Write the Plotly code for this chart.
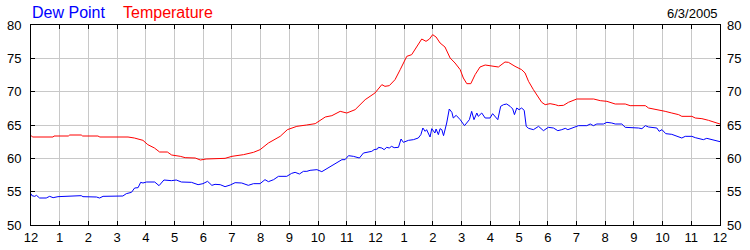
import plotly.graph_objects as go

# Temperature (red) — hour of day, value (°F)
temp_hours = [0.0, 0.05, 0.77, 0.8, 1.3, 1.35, 1.75, 1.8, 2.33, 2.4, 3.38, 3.6, 3.9, 4.07, 4.3, 4.48,
              4.75, 4.9, 5.2, 5.37, 5.72, 5.9, 6.1, 6.35, 6.76, 7.0, 7.4, 7.75, 7.98, 8.27, 8.68,
              8.93, 9.26, 9.6, 9.9, 10.25, 10.48, 10.77, 11.0, 11.29, 11.64, 11.81, 11.98, 12.22,
              12.33, 12.48, 12.68, 12.86, 13.09, 13.26, 13.44, 13.61, 13.76, 13.88, 13.99, 14.11,
              14.25, 14.42, 14.6, 14.77, 14.95, 15.06, 15.18, 15.32, 15.47, 15.64, 15.82, 16.05,
              16.28, 16.51, 16.63, 16.86, 17.09, 17.21, 17.33, 17.5, 17.62, 17.79, 17.91, 18.08,
              18.26, 18.37, 18.55, 18.72, 19.01, 19.6, 19.83, 20.06, 20.35, 20.7, 20.87, 21.4,
              21.51, 21.86, 22.09, 22.32, 22.56, 22.67, 23.02, 23.14, 23.37, 23.6, 23.83, 24.0]
temp_vals = [63.45, 63.2, 63.2, 63.35, 63.35, 63.5, 63.5, 63.35, 63.35, 63.2, 63.2, 63.05, 62.7,
             62.05, 61.55, 60.95, 60.95, 60.5, 60.3, 60.1, 60.05, 59.75, 59.9, 59.95, 60.0, 60.3,
             60.55, 60.9, 61.3, 62.3, 63.3, 64.3, 64.8, 65.0, 65.2, 66.2, 66.4, 67.05, 66.8, 67.3,
             68.8, 69.3, 69.8, 71.05, 70.8, 70.9, 71.8, 73.3, 75.3, 75.55, 76.8, 77.9, 77.55, 77.9,
             78.55, 78.2, 77.3, 76.7, 75.05, 74.3, 73.3, 72.05, 71.2, 71.2, 72.55, 73.7, 74.0, 73.8,
             73.7, 74.45, 74.4, 73.8, 73.3, 72.8, 71.55, 70.3, 69.55, 68.4, 68.05, 68.2, 68.05,
             67.9, 67.95, 68.4, 68.9, 68.9, 68.65, 68.55, 68.15, 68.15, 67.9, 67.9, 67.55, 67.3,
             67.05, 66.8, 66.55, 66.3, 66.3, 66.05, 65.95, 65.7, 65.4, 65.15]

# Dew point (blue)
dew_hours = [0.0, 0.03, 0.13, 0.19, 0.3, 0.53, 0.65, 0.77, 0.94, 1.29, 1.46, 1.75, 1.81, 2.28, 2.39,
             2.51, 3.2, 3.32, 3.5, 3.61, 3.73, 3.82, 3.9, 4.02, 4.31, 4.46, 4.63, 4.89, 5.06, 5.24,
             5.59, 5.82, 5.99, 6.15, 6.3, 6.41, 6.59, 6.76, 6.94, 7.11, 7.34, 7.57, 7.75, 7.98,
             8.15, 8.27, 8.45, 8.62, 8.91, 9.08, 9.2, 9.35, 9.49, 9.61, 9.72, 9.96, 10.13, 10.28,
             10.42, 10.65, 10.83, 10.94, 11.06, 11.23, 11.44, 11.58, 11.76, 11.87, 11.95, 12.07,
             12.1, 12.22, 12.3, 12.39, 12.48, 12.56, 12.65, 12.8, 12.89, 12.97, 13.15, 13.32,
             13.49, 13.58, 13.65, 13.73, 13.78, 13.9, 13.96, 14.07, 14.11, 14.19, 14.25, 14.31,
             14.37, 14.48, 14.57, 14.66, 14.71, 14.81, 14.95, 15.1, 15.27, 15.35, 15.43, 15.53,
             15.58, 15.7, 15.82, 15.99, 16.08, 16.26, 16.36, 16.46, 16.57, 16.69, 16.78, 16.84,
             16.92, 17.0, 17.09, 17.18, 17.25, 17.33, 17.5, 17.68, 17.85, 18.02, 18.2, 18.35,
             18.49, 18.61, 18.7, 18.84, 18.96, 19.07, 19.36, 19.48, 19.59, 19.71, 19.94, 20.06,
             20.23, 20.35, 20.58, 20.7, 21.16, 21.28, 21.4, 21.51, 21.8, 21.88, 21.98, 22.11,
             22.32, 22.5, 22.67, 22.79, 23.02, 23.14, 23.31, 23.42, 23.54, 23.72, 24.0]
dew_vals = [54.7, 54.4, 54.3, 54.45, 54.05, 54.05, 54.3, 54.1, 54.25, 54.3, 54.4, 54.4, 54.25, 54.2,
            54.05, 54.3, 54.35, 54.7, 54.9, 55.55, 55.6, 56.4, 56.3, 56.45, 56.45, 55.9, 56.75,
            56.65, 56.75, 56.45, 56.4, 56.05, 56.2, 56.55, 55.95, 56.1, 56.05, 55.75, 56.0, 56.35,
            56.3, 55.95, 56.2, 56.2, 56.8, 56.5, 56.8, 57.3, 57.3, 57.75, 57.9, 57.65, 58.05, 58.05,
            58.2, 58.3, 58.0, 58.4, 58.8, 59.4, 59.8, 59.8, 60.4, 60.3, 60.05, 60.8, 60.95, 61.05,
            61.3, 61.4, 61.65, 61.55, 61.3, 61.65, 61.55, 61.8, 61.6, 61.65, 62.9, 62.4, 62.7, 62.8,
            63.05, 63.55, 64.55, 64.05, 64.3, 63.2, 64.45, 63.8, 64.4, 63.55, 64.45, 64.3, 63.4,
            65.3, 67.4, 66.9, 66.05, 66.45, 65.8, 64.9, 65.8, 67.05, 65.8, 66.8, 66.3, 66.8, 66.05,
            66.05, 66.7, 65.8, 67.8, 68.05, 68.15, 67.8, 67.4, 66.55, 67.55, 67.3, 67.55, 67.2,
            64.8, 64.5, 64.3, 64.8, 64.15, 64.65, 64.55, 64.15, 64.3, 64.5, 64.3, 64.55, 64.75,
            64.9, 64.9, 65.15, 64.9, 65.15, 65.15, 65.4, 65.3, 65.15, 65.15, 64.65, 64.55, 64.45,
            64.9, 64.7, 64.55, 64.05, 64.3, 63.7, 63.6, 63.3, 63.05, 63.3, 63.3, 63.1, 62.95, 62.8,
            63.0, 62.8, 62.5]

x_tickvals = list(range(0, 25))
x_ticktext = ["12"] + [str(h) for h in range(1, 12)] + ["12"] + [str(h) for h in range(1, 12)] + ["12"]
y_tickvals = [50, 55, 60, 65, 70, 75, 80]

FONT = "Liberation Sans, Arial, sans-serif"

fig = go.Figure()
fig.add_trace(go.Scatter(x=dew_hours, y=dew_vals, mode="lines",
                         line=dict(color="#0000FF", width=1), name="Dew Point"))
fig.add_trace(go.Scatter(x=temp_hours, y=temp_vals, mode="lines",
                         line=dict(color="#FF0000", width=1), name="Temperature"))
# invisible trace to drive the right-hand axis
fig.add_trace(go.Scatter(x=[0], y=[50], yaxis="y2", mode="markers",
                         marker=dict(opacity=0), hoverinfo="skip", showlegend=False))

axis_font = dict(family=FONT, size=13, color="#000000")

fig.update_layout(
    width=750, height=250,
    margin=dict(l=31, r=30, t=25, b=25, autoexpand=False),
    paper_bgcolor="white", plot_bgcolor="white",
    showlegend=False,
    xaxis=dict(range=[0, 24], tickmode="array", tickvals=x_tickvals, ticktext=x_ticktext,
               showgrid=True, gridcolor="#C8C8C8", gridwidth=1, zeroline=False,
               showline=True, linecolor="black", linewidth=1, mirror="ticks",
               ticks="inside", ticklen=4, tickcolor="black", tickfont=axis_font,
               ticklabelstandoff=0, automargin=False),
    yaxis=dict(range=[50, 80], tickmode="array", tickvals=y_tickvals,
               showgrid=True, gridcolor="#C8C8C8", gridwidth=1, zeroline=False,
               showline=True, linecolor="black", linewidth=1, mirror="ticks",
               ticks="inside", ticklen=4, tickcolor="black", tickfont=axis_font,
               ticklabelstandoff=6, automargin=False),
    yaxis2=dict(range=[50, 80], tickmode="array", tickvals=y_tickvals, overlaying="y",
                side="right", showgrid=False, zeroline=False, showline=False,
                ticks="", tickfont=axis_font, ticklabelstandoff=6, automargin=False),
    annotations=[
        dict(text="Dew Point", x=0, y=1, xref="paper", yref="paper", xanchor="left",
             yanchor="middle", xshift=-1, yshift=13, showarrow=False,
             font=dict(family=FONT, size=16, color="#0000FF")),
        dict(text="Temperature", x=0, y=1, xref="paper", yref="paper", xanchor="left",
             yanchor="middle", xshift=90, yshift=13, showarrow=False,
             font=dict(family=FONT, size=16, color="#FF0000")),
        dict(text="6/3/2005", x=1, y=1, xref="paper", yref="paper", xanchor="right",
             yanchor="middle", xshift=0, yshift=12, showarrow=False,
             font=dict(family=FONT, size=13, color="#000000")),
    ],
)

fig.write_html("out.html")
